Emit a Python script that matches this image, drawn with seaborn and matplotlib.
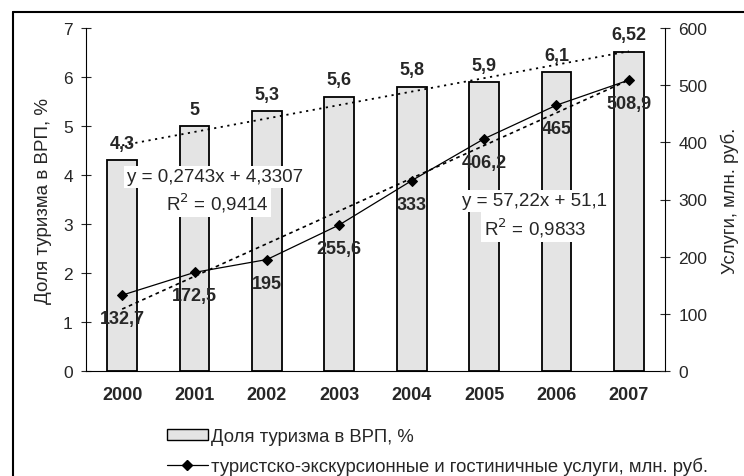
import numpy as np
import pandas as pd
import matplotlib
matplotlib.use("Agg")
import matplotlib.pyplot as plt
import seaborn as sns
from matplotlib.patches import Patch
from matplotlib.lines import Line2D

years = ["2000", "2001", "2002", "2003", "2004", "2005", "2006", "2007"]
share_gdp = [4.3, 5.0, 5.3, 5.6, 5.8, 5.9, 6.1, 6.52]
share_labels = ["4,3", "5", "5,3", "5,6", "5,8", "5,9", "6,1", "6,52"]
services = [132.7, 172.5, 195.0, 255.6, 333.0, 406.2, 465.0, 508.9]
services_labels = ["132,7", "172,5", "195", "255,6", "333", "406,2", "465", "508,9"]
left_ticks = [0, 1, 2, 3, 4, 5, 6, 7]
right_ticks = [0, 100, 200, 300, 400, 500, 600]
eq_bar = ["y = 0,2743x + 4,3307", "R$^2$ = 0,9414"]
eq_line = ["y = 57,22x + 51,1", "R$^2$ = 0,9833"]
bar_name = "Доля туризма в ВРП, %"
line_name = "туристско-экскурсионные и гостиничные услуги, млн. руб."
right_title = "Услуги, млн. руб."

sns.set_style("white")
plt.rcParams["font.family"] = ["Liberation Sans", "DejaVu Sans"]

df = pd.DataFrame({"year": years, "share": share_gdp, "services": services})
idx = np.arange(len(years))

fig = plt.figure(figsize=(7.44, 4.77), dpi=100)
ax = fig.add_axes([86 / 744, 1 - 372 / 477, (665 - 86) / 744, (372 - 29) / 477])
ax2 = ax.twinx()

sns.barplot(data=df, x="year", y="share", ax=ax, color="#e4e4e4",
            edgecolor="black", linewidth=1.3, width=0.41, saturation=1)
ax.bar_label(ax.containers[0], labels=share_labels, padding=6,
             fontsize=13, fontweight="bold")

# linear trend for bars
xt = idx + 1
cb = np.polyfit(xt, share_gdp, 1)
ax.plot(idx, np.polyval(cb, xt), color="black", lw=1.3, ls=(0, (1.2, 2.5)))

ax.set_xlim(-0.5, len(years) - 0.5)
ax.set_ylim(0, 7)
ax.set_yticks(left_ticks)
ax.set_yticklabels([str(t) for t in left_ticks])
ax.set_xlabel("")
ax.set_ylabel(bar_name, fontsize=13.5, labelpad=8)
ax.tick_params(axis="y", direction="inout", length=7, width=0.8, labelsize=12.5, pad=6)
ax.tick_params(axis="x", length=0, labelsize=13, pad=11)
for lbl in ax.get_xticklabels():
    lbl.set_fontweight("bold")
ax.set_xticks(np.arange(-0.5, len(years), 1.0), minor=True)
ax.tick_params(axis="x", which="minor", direction="inout", length=7, width=0.8)

# line series on right axis
sns.lineplot(x=idx, y=services, ax=ax2, color="black", lw=0.9,
             marker="D", markersize=5, markeredgecolor="black")
cl = np.polyfit(xt, services, 1)
ax2.plot(idx, np.polyval(cl, xt), color="black", lw=1.2, ls=(0, (2.2, 2.2)))
for i, (v, t) in enumerate(zip(services, services_labels)):
    ax2.annotate(t, (i, v), xytext=(0, -17), textcoords="offset points",
                 ha="center", va="center", fontsize=13, fontweight="bold")

ax2.set_ylim(0, 600)
ax2.set_yticks(right_ticks)
ax2.set_yticklabels([str(t) for t in right_ticks])
ax2.set_ylabel(right_title, fontsize=13.3, labelpad=10)
ax2.tick_params(axis="y", direction="inout", length=7, width=0.8, labelsize=12.5, pad=6)
ax2.set_xlim(-0.5, len(years) - 0.5)

for a in (ax, ax2):
    a.spines["top"].set_visible(False)
    for s in a.spines.values():
        s.set_color("black")
        s.set_linewidth(0.8)
ax.spines["right"].set_visible(False)
ax2.spines["left"].set_visible(False)
ax2.spines["bottom"].set_visible(False)

# equation text boxes
box = dict(facecolor="white", edgecolor="none", pad=2)
fs_eq = 13.5
fig.text(215 / 744, 1 - 178 / 477, eq_bar[0], ha="center", va="center", fontsize=fs_eq, bbox=box, zorder=5)
fig.text(217 / 744, 1 - 203 / 477, eq_bar[1], ha="center", va="center", fontsize=fs_eq, bbox=box, zorder=5)
fig.text(535 / 744, 1 - 202 / 477, eq_line[0], ha="center", va="center", fontsize=fs_eq, bbox=box, zorder=5)
fig.text(535 / 744, 1 - 228 / 477, eq_line[1], ha="center", va="center", fontsize=fs_eq, bbox=box, zorder=5)

# legend
handles = [Patch(facecolor="#e4e4e4", edgecolor="black", linewidth=1.0),
           Line2D([0], [0], color="black", lw=0.9, marker="D", markersize=5)]
fig.legend(handles, [bar_name, line_name], loc="upper left",
           bbox_to_anchor=(167 / 744, 1 - 429 / 477), frameon=False,
           fontsize=13.3, handlelength=2.2, handleheight=0.6, handletextpad=0.2,
           labelspacing=0.65, borderaxespad=0, borderpad=0)

# outer frame lines
fig.add_artist(Line2D([13 / 744, 13 / 744], [0, 1 - 13 / 477], color="black", lw=1.5,
                      transform=fig.transFigure))
fig.add_artist(Line2D([13 / 744, 1], [1 - 13 / 477, 1 - 13 / 477], color="black", lw=1.5,
                      transform=fig.transFigure))

fig.savefig("out.png", dpi=100)
